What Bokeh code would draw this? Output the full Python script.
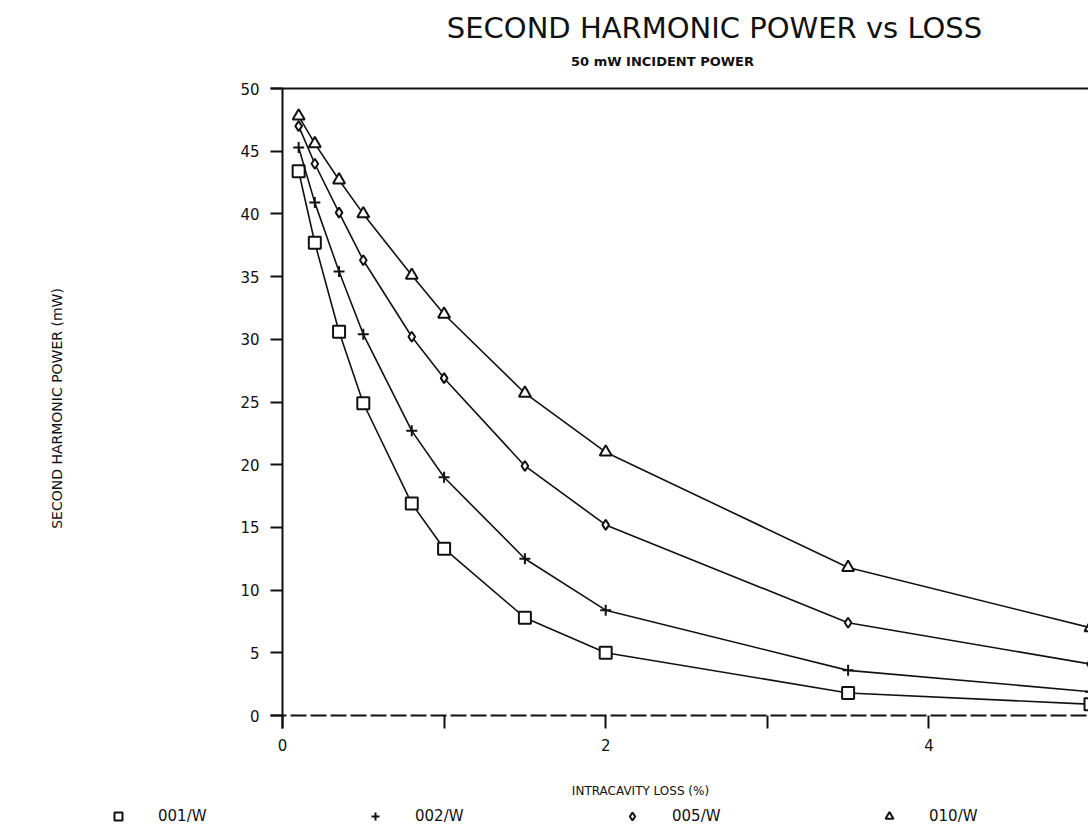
from bokeh.plotting import figure
from bokeh.models import (Range1d, FixedTicker, Label, ColumnDataSource,
                          Legend, LegendItem, LinearAxis)
from bokeh.embed import file_html
from bokeh.resources import INLINE

# ---- data ----
loss = [0.1, 0.2, 0.35, 0.5, 0.8, 1.0, 1.5, 2.0, 3.5, 5.0]
p001 = [43.4, 37.7, 30.6, 24.9, 16.9, 13.3, 7.8, 5.0, 1.8, 0.9]
p002 = [45.3, 40.9, 35.4, 30.4, 22.7, 19.0, 12.5, 8.4, 3.6, 1.9]
p005 = [47.0, 44.0, 40.1, 36.3, 30.2, 26.9, 19.9, 15.2, 7.4, 4.1]
p010 = [47.8, 45.6, 42.7, 40.0, 35.1, 32.0, 25.7, 21.0, 11.8, 7.0]
series_names = ["001/W", "002/W", "005/W", "010/W"]
series_markers = ["square", "cross", "diamond", "triangle"]
y_ticks = [0, 5, 10, 15, 20, 25, 30, 35, 40, 45, 50]
x_ticks = [0, 1, 2, 3, 4]
x_tick_labels = {0: "0", 1: "", 2: "2", 3: "", 4: "4"}

FONT = "DejaVu Sans"
INK = "#111111"

# ---- layout: the frame fills the canvas, axes are pinned at fixed locations ----
W, H = 1088, 832
X0_PX, X_PER = 282, 161.6      # pixel of x=0, pixels per x unit
Y0_PX, Y_PER = 715, 12.54      # pixel of y=0, pixels per y unit
Y_LOW, Y_TOP = -1.0, 50.0      # extent of the drawn y axis
X_LEFT = -12 / X_PER           # border lines start a little left of the axis

x_rng = Range1d(-X0_PX / X_PER, (W - X0_PX) / X_PER)
y_rng = Range1d(-(H - Y0_PX) / Y_PER, Y0_PX / Y_PER)

p = figure(width=W, height=H, x_range=x_rng, y_range=y_rng,
           output_backend="svg", toolbar_location=None,
           x_axis_type=None, y_axis_type=None, min_border=0)
p.outline_line_color = None
p.background_fill_color = "white"
p.border_fill_color = "white"

yax = LinearAxis(fixed_location=0, bounds=(Y_LOW, Y_TOP),
                 ticker=FixedTicker(ticks=y_ticks))
yax.major_tick_out = 12
yax.major_tick_in = 0
yax.minor_tick_line_color = None
yax.axis_line_width = 2
yax.axis_line_color = INK
yax.major_tick_line_width = 2
yax.major_tick_line_color = INK
yax.major_label_standoff = 11
yax.major_label_text_font = FONT
yax.major_label_text_font_size = "15px"
yax.major_label_text_color = INK
yax.axis_label = "SECOND HARMONIC POWER (mW)"
yax.axis_label_text_font = FONT
yax.axis_label_text_font_size = "14px"
yax.axis_label_text_font_style = "normal"
yax.axis_label_text_color = INK
yax.axis_label_standoff = 172
p.add_layout(yax, "left")

xax = LinearAxis(fixed_location=Y_LOW, bounds=(0, 5),
                 ticker=FixedTicker(ticks=x_ticks))
xax.major_label_overrides = x_tick_labels
xax.axis_line_color = None
xax.major_tick_in = 13
xax.major_tick_out = 0
xax.major_tick_line_width = 2
xax.major_tick_line_color = INK
xax.minor_tick_line_color = None
xax.major_label_standoff = 11
xax.major_label_text_font = FONT
xax.major_label_text_font_size = "15px"
xax.major_label_text_color = INK
p.add_layout(xax, "below")

# top border and dashed zero line
p.segment(x0=[X_LEFT], y0=[Y_TOP], x1=[x_rng.end], y1=[Y_TOP],
          line_color=INK, line_width=2)
p.segment(x0=[X_LEFT], y0=[0], x1=[x_rng.end], y1=[0],
          line_color=INK, line_width=2, line_dash="16 4")

# texts, in screen units from the canvas' bottom-left corner
def screen_label(text, cx, cy, size, style="normal"):
    return Label(x=cx, y=H - cy, x_units="screen", y_units="screen",
                 text=text, text_align="center", text_baseline="middle",
                 text_font=FONT, text_font_size=size, text_font_style=style,
                 text_color=INK)

p.add_layout(screen_label("SECOND HARMONIC POWER vs LOSS", 714, 27, "29px"))
p.add_layout(screen_label("50 mW INCIDENT POWER", 662, 61, "13px", "bold"))
p.add_layout(screen_label("INTRACAVITY LOSS (%)", 640, 790, "12px"))

src = ColumnDataSource(dict(loss=loss, p001=p001, p002=p002, p005=p005, p010=p010))
cols = ["p001", "p002", "p005", "p010"]
sizes = [12, 11, 10, 12]
items = []
for col, mk, sz, name in zip(cols, series_markers, sizes, series_names):
    p.line("loss", col, source=src, line_color=INK, line_width=1.6)
    r = p.scatter("loss", col, source=src, marker=mk, size=sz, line_color=INK,
                  line_width=2, fill_color="white")
    items.append(LegendItem(label=name, renderers=[r]))

legend = Legend(items=items, orientation="horizontal",
                location=(108, H - 826),
                glyph_width=20, glyph_height=20, label_standoff=30,
                label_width=207, spacing=0, padding=0, margin=0,
                border_line_color=None, background_fill_alpha=0,
                label_text_font=FONT, label_text_font_size="15px",
                label_text_color=INK)
p.add_layout(legend, "center")

open("out.html", "w").write(file_html(p, INLINE))
